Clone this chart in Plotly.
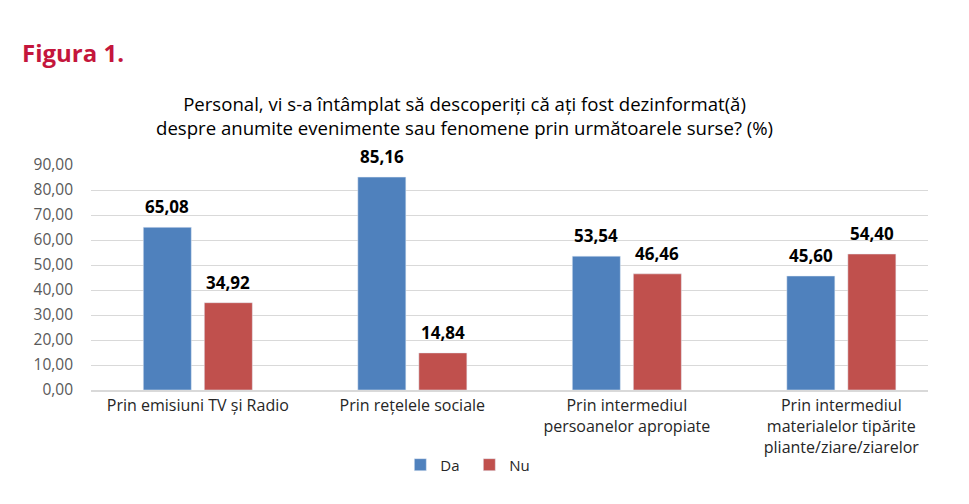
import plotly.graph_objects as go

categories = ["Prin emisiuni TV și Radio", "Prin rețelele sociale",
              "Prin intermediul<br>persoanelor apropiate",
              "Prin intermediul<br>materialelor tipărite<br>pliante/ziare/ziarelor"]
da_values = [65.08, 85.16, 53.54, 45.60]
nu_values = [34.92, 14.84, 46.46, 54.40]
y_ticks = [0, 10, 20, 30, 40, 50, 60, 70, 80, 90]

FONT = "'Open Sans', 'Noto Sans', sans-serif"
pos = list(range(len(categories)))
BARGAP = 0.431
half = (1 - BARGAP) / 4  # centre offset of each bar within its group

fig = go.Figure()
fig.add_trace(go.Bar(name="Da", x=pos, y=da_values, marker_color="#4F81BD"))
fig.add_trace(go.Bar(name="Nu", x=pos, y=nu_values, marker_color="#C0504D"))

annos = []
for i, (d, n) in enumerate(zip(da_values, nu_values)):
    for xv, v in ((i - half, d), (i + half, n)):
        annos.append(dict(x=xv, y=v, xref="x", yref="y", text=f"<b>{v:.2f}</b>".replace(".", ","),
                          showarrow=False, yanchor="bottom", xanchor="center", yshift=7,
                          font=dict(size=17, color="#000000", family=FONT)))

annos += [
    dict(text="<b>Figura 1.</b>", xref="paper", yref="paper", x=-0.085, y=1.502,
         xanchor="left", yanchor="middle", showarrow=False,
         font=dict(size=24, color="#C4163C", family=FONT)),
    dict(text="Personal, vi s-a întâmplat să descoperiți că ați fost dezinformat(ă)<br>"
              "despre anumite evenimente sau fenomene prin următoarele surse? (%)",
         xref="paper", yref="paper", x=0.446, y=1.222, xanchor="center", yanchor="middle",
         showarrow=False, align="center",
         font=dict(size=18.6, color="#000000", family=FONT)),
]

fig.update_layout(
    width=969, height=504,
    margin=dict(l=83, r=49, t=157, b=122),
    paper_bgcolor="white", plot_bgcolor="white",
    barmode="group", bargap=BARGAP, bargroupgap=0.213,
    separators=", ",
    font=dict(family=FONT, size=14, color="#262626"),
    showlegend=True,
    legend=dict(orientation="h", x=0.452, xanchor="center", y=-0.333, yanchor="middle",
                font=dict(size=15, color="#262626"), traceorder="normal",
                itemwidth=30, entrywidth=24, entrywidthmode="pixels"),
    annotations=annos,
)
fig.update_xaxes(range=[-0.498, 3.404], tickmode="array", tickvals=pos, ticktext=categories,
                 showgrid=False, showline=True, linecolor="#D9D9D9", linewidth=2,
                 ticks="", tickfont=dict(size=16, color="#262626"), zeroline=False)
fig.update_yaxes(range=[0, 90], tickmode="array", tickvals=y_ticks, tickformat=".2f",
                 showgrid=True, gridcolor="#D9D9D9", gridwidth=1.3, zeroline=False,
                 showline=False, ticks="", ticklabelstandoff=17,
                 tickfont=dict(size=15.5, color="#595959"))

fig.write_html("out.html")
